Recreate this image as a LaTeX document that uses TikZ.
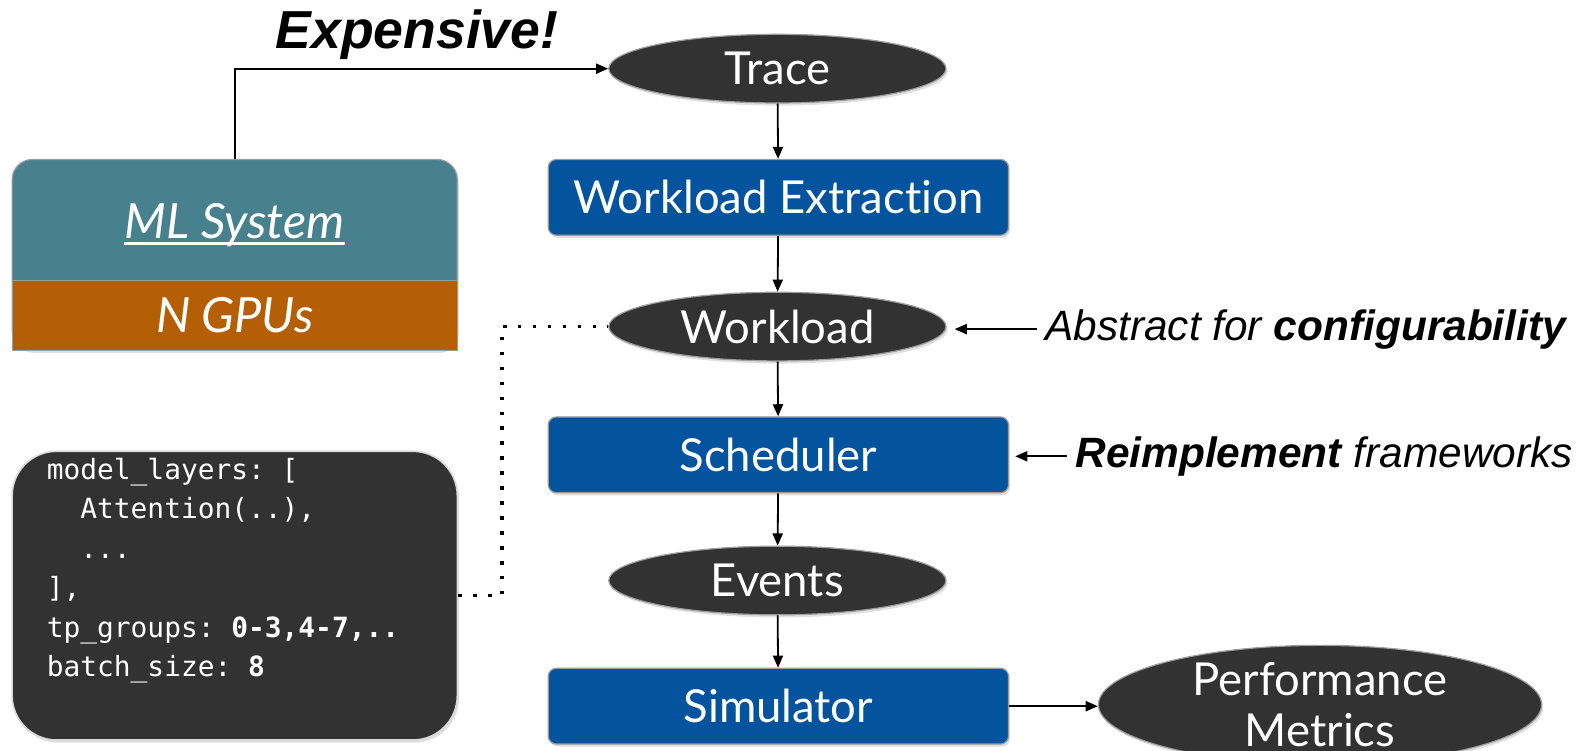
\documentclass[tikz,border=0pt]{standalone}
\usepackage{fontspec}
\setmainfont{Lato}[Ligatures=NoCommon]
\setmonofont{DejaVu Sans Mono}
\newfontfamily\notefont{Liberation Sans}
\usetikzlibrary{arrows.meta,shapes.geometric,shadows,calc}

\definecolor{nodedark}{HTML}{323232}
\definecolor{stageblue}{HTML}{03539E}
\definecolor{systeal}{HTML}{47818E}
\definecolor{gpuorange}{HTML}{B45F06}
\definecolor{edgegray}{HTML}{9C9C9C}

\tikzset{
  softshadow/.style={drop shadow={shadow xshift=0.8pt, shadow yshift=-1.3pt, opacity=0.25}},
  labelfont/.style={font=\fontsize{22.5}{25}\selectfont},
  datanode/.style={ellipse, fill=nodedark, draw=edgegray, line width=0.6pt,
    minimum width=167pt, minimum height=34pt, inner sep=0pt, text=white,
    labelfont, softshadow},
  stagebox/.style={rectangle, rounded corners=4pt, fill=stageblue, draw=edgegray,
    line width=0.6pt, minimum width=228pt, minimum height=37.5pt, inner sep=0pt,
    text=white, labelfont, softshadow},
  flow/.style={-{Triangle[length=6pt,width=5pt]}, line width=0.9pt, black},
  dotline/.style={line width=1.8pt, dash pattern=on 1.8pt off 5.6pt, black},
  sidenote/.style={font=\notefont\itshape\fontsize{21}{24}\selectfont, inner sep=4pt},
}

\begin{document}
\begin{tikzpicture}[x=0.5pt, y=-0.5pt]
\useasboundingbox (0,0) rectangle (1568,743);

% main pipeline
\node[datanode] (trace) at (770,68) {Trace};
\node[stagebox] (extract) at (771,195.5) {Workload Extraction};
\node[datanode] (workload) at (770,323.5) {Workload};
\node[stagebox] (sched) at (771,450.5) {Scheduler};
\node[datanode] (events) at (770,575) {Events};
\node[stagebox] (sim) at (771,699.5) {Simulator};
\node[datanode, minimum width=219.5pt, minimum height=52pt, align=center]
  (metrics) at (1307.5,698) {Performance\\Metrics};

\draw[flow] (trace) -- (extract);
\draw[flow] (extract) -- (workload);
\draw[flow] (workload) -- (sched);
\draw[flow] (sched) -- (events);
\draw[flow] (events) -- (sim);
\draw[flow] (sim.east) -- (sim.east -| metrics.west);

% system under measurement
\node[draw=edgegray, line width=0.6pt, fill=systeal, rounded corners=10pt,
  minimum width=220.5pt, minimum height=94.5pt, inner sep=0pt, softshadow]
  (mlsys) at (232.5,252.5) {};
\node[draw=edgegray, line width=0.6pt, fill=gpuorange, minimum width=220.5pt,
  minimum height=34.5pt, inner sep=0pt, text=white,
  font=\itshape\fontsize{24}{26}\selectfont] (gpus) at (232.5,312.5) {N GPUs};
\node[text=white, inner sep=0pt, font=\itshape\fontsize{24}{26}\selectfont]
  (mlname) at (232.5,223) {ML System};
\draw[white, line width=1.4pt] ($(mlname.base west)+(0,5)$) -- ($(mlname.base east)+(0,5)$);

\draw[flow] (mlsys.north) |- (trace.west);
\node[font=\notefont\bfseries\itshape\fontsize{26.5}{30}\selectfont, inner sep=0pt]
  (expensive) at (413,34) {Expensive!};

% workload configuration
\node[fill=nodedark, draw=white!85!black, line width=0.8pt, rounded corners=22pt,
  minimum width=220.5pt, minimum height=143pt, inner sep=0pt, softshadow]
  (config) at (232.5,590) {};
\node[anchor=north west, inner sep=0pt, align=left, text=white,
  font=\ttfamily\fontsize{13.8}{19.6}\selectfont] (configtext) at (46,453)
  {model\_layers: [\\
   \phantom{mo}Attention(..),\\
   \phantom{mo}...\\
   ],\\
   tp\_groups: \textbf{0-3,4-7,..}\\
   batch\_size: \textbf{8}};

\coordinate (dotturn) at (497,590);
\draw[dotline] (config.east) -- (dotturn) |- (workload.west);

% annotations
\node[sidenote, anchor=west] (abstract) at (1027,326)
  {Abstract for \textbf{configurability}};
\draw[flow] (abstract.west) -- ([xshift=4pt]abstract.west -| workload.east);
\node[sidenote, anchor=west] (reimpl) at (1057,452)
  {\textbf{Reimplement} frameworks};
\draw[flow] (reimpl.west) -- ([xshift=3pt]reimpl.west -| sched.east);
\end{tikzpicture}
\end{document}
